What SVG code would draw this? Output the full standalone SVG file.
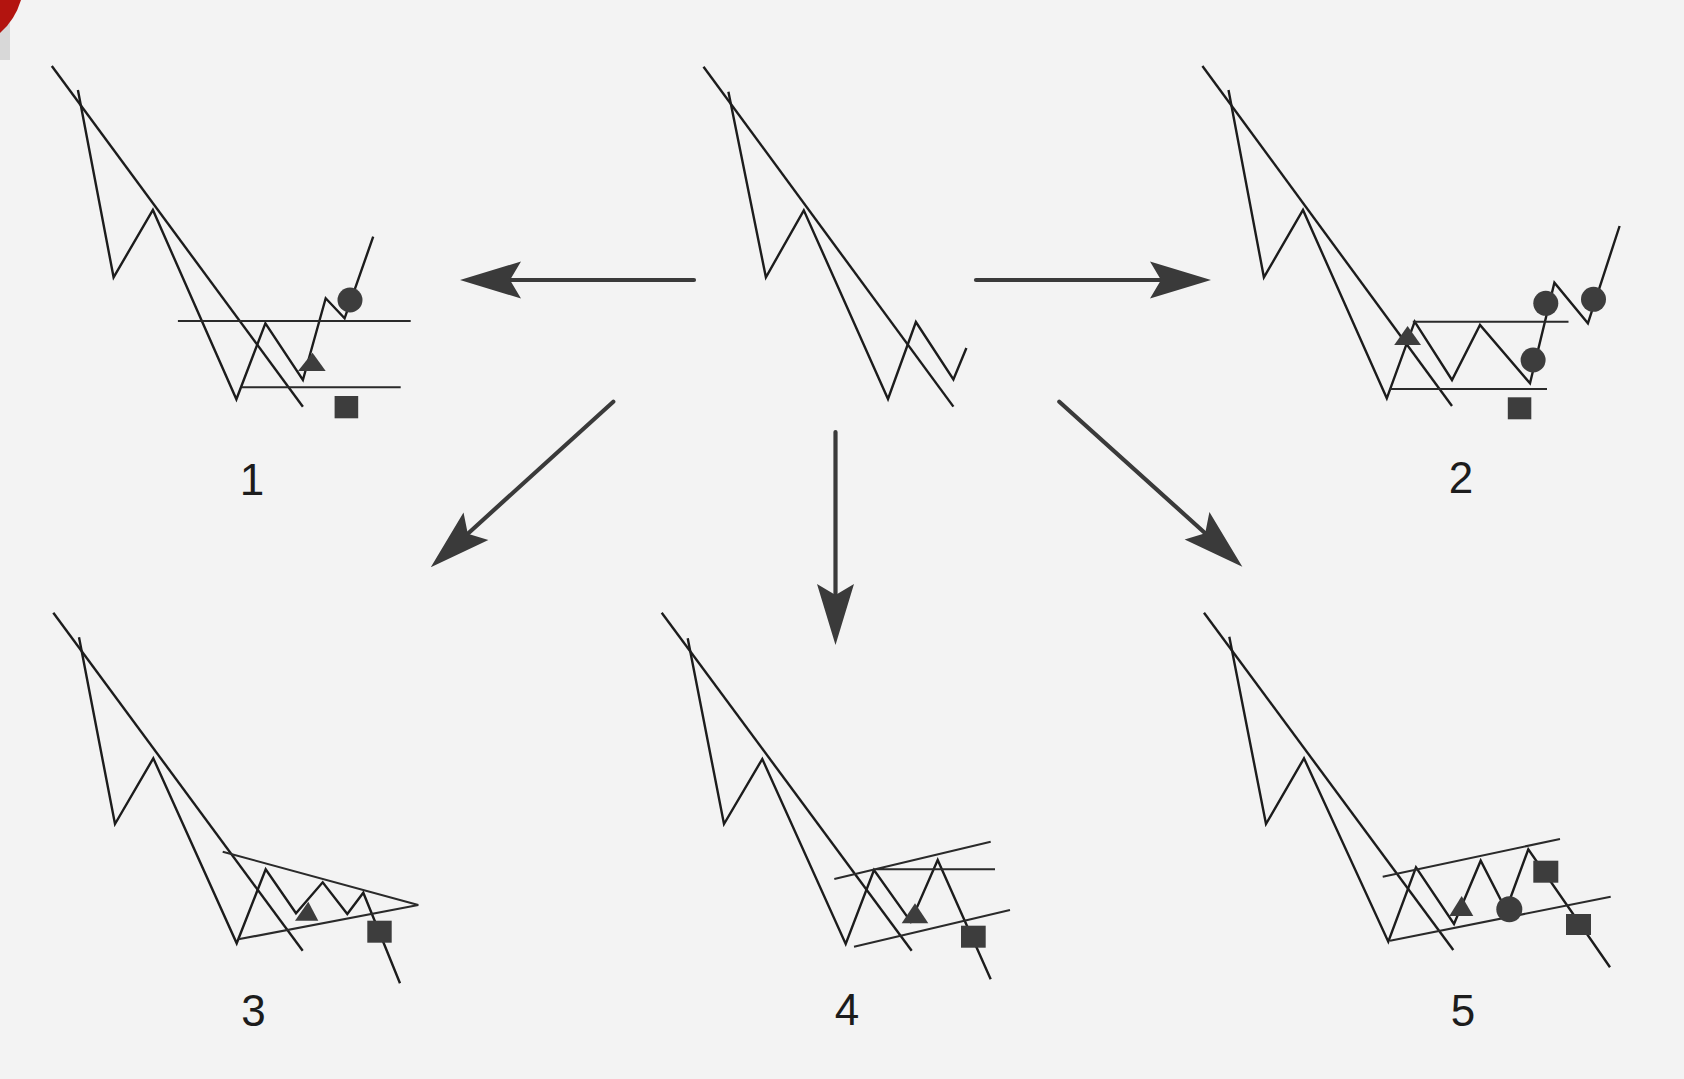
<svg xmlns="http://www.w3.org/2000/svg" width="1684" height="1079" viewBox="0 0 1684 1079">
  <style>
    .bg { fill: #f3f3f3; }
    .chart { fill: none; stroke: #1c1c1c; stroke-width: 2.4; stroke-linejoin: miter; stroke-linecap: butt; }
    .guide { fill: none; stroke: #2a2a2a; stroke-width: 2.1; }
    .mark { fill: #3d3d3d; }
    .arrow { fill: none; stroke: #3a3a3a; stroke-width: 4.2; stroke-linecap: round; }
    .label { font-family: "Liberation Sans", Arial, sans-serif; font-size: 44px; fill: #1c1c1c; text-anchor: middle; }
  </style>
  <defs>
    <marker id="head" markerUnits="userSpaceOnUse" viewBox="-12 -20 64 40" markerWidth="64" markerHeight="40" refX="0" refY="0" orient="auto" overflow="visible">
      <path d="M-11,-18.5 L50,0 L-11,18.5 L0,0 Z" fill="#3a3a3a"/>
    </marker>
  </defs>

  <rect class="bg" x="0" y="0" width="1684" height="1079"/>
  <rect x="0" y="0" width="10" height="60" fill="#d8d8d8"/>
  <path d="M0,0 H21 Q15,20 0,33 Z" fill="#b3140f"/>

  <g id="connectors">
    <line class="arrow" x1="694" y1="280" x2="510" y2="280" marker-end="url(#head)"/>
    <line class="arrow" x1="976" y1="280" x2="1161" y2="280" marker-end="url(#head)"/>
    <line class="arrow" x1="835.5" y1="432" x2="835.5" y2="595" marker-end="url(#head)"/>
    <line class="arrow" x1="613.3" y1="401.7" x2="467.8" y2="533.7" marker-end="url(#head)"/>
    <line class="arrow" x1="1059.3" y1="401.7" x2="1205.2" y2="533.2" marker-end="url(#head)"/>
  </g>

  <g id="panel-start">
    <path class="chart" d="M703.5,66.8 L953.4,406.6"/>
    <path class="chart" d="M728.4,91.7 L765.9,277.3 L803.8,210.3 L888,399 L915.9,322 L953.4,379.5 L966.4,348"/>
  </g>

  <g id="panel-1">
    <path class="chart" d="M51.8,66 L302.9,406.7"/>
    <path class="chart" d="M77.9,90 L113.6,277.3 L152.9,210 L236.4,399.3 L265.4,323.3 L302.9,380 L325.7,298.3 L344.6,318.3 L373.2,236.7"/>
    <path class="guide" d="M177.9,321 H410.7 M242,387.3 H400.7"/>
    <path class="mark" d="M312.5,352.7 L325.7,371 L298,371 Z"/>
    <rect class="mark" x="334.6" y="396" width="23.6" height="22.3"/>
    <circle class="mark" cx="350" cy="300" r="12.5"/>
    <text class="label" x="252" y="495">1</text>
  </g>

  <g id="panel-2">
    <path class="chart" d="M1202.4,66 L1452,406"/>
    <path class="chart" d="M1228.5,90 L1263.9,277.3 L1303,210 L1386.8,398.3 L1414.7,321.7 L1452,380 L1480,325 L1530,383.3 L1554.4,282.7 L1587.9,323.3 L1619.6,226"/>
    <path class="guide" d="M1412.8,321.7 H1568.5 M1389.8,389 H1547"/>
    <path class="mark" d="M1407.6,326 L1421,345 L1394.2,345 Z"/>
    <rect class="mark" x="1507.8" y="397.3" width="23.5" height="22"/>
    <circle class="mark" cx="1545.8" cy="303.3" r="12.5"/>
    <circle class="mark" cx="1533.1" cy="360" r="12.5"/>
    <circle class="mark" cx="1593.5" cy="299.3" r="12.5"/>
    <text class="label" x="1461" y="493">2</text>
  </g>

  <g id="panel-3">
    <path class="chart" d="M53.3,612.7 L302.7,950.7"/>
    <path class="chart" d="M79,637.3 L115,824 L153.3,758.3 L236.7,943.3 L265.7,869.3 L296,913.3 L322.7,882.3 L347.3,914 L363.3,892.7 L400,983.3"/>
    <path class="guide" d="M222.7,851.7 L418.3,905 L238.3,939.3"/>
    <path class="mark" d="M308.3,901.7 L318.3,920.7 L295,920.7 Z"/>
    <rect class="mark" x="367.3" y="920.7" width="24.4" height="22"/>
    <text class="label" x="253.5" y="1026">3</text>
  </g>

  <g id="panel-4">
    <path class="chart" d="M661.7,612.7 L911.7,950.7"/>
    <path class="chart" d="M687.7,638.3 L724,824 L762.3,759 L845.7,944 L874,870 L910.7,921.7 L937.7,860 L990.7,979.3"/>
    <path class="guide" d="M834.3,879 L990.7,841.7 M874,869.3 H995 M854,946.7 L1010,910"/>
    <path class="mark" d="M915,903.3 L928.3,923.3 L901.7,923.3 Z"/>
    <rect class="mark" x="961" y="925.7" width="24.7" height="22"/>
    <text class="label" x="847" y="1025">4</text>
  </g>

  <g id="panel-5">
    <path class="chart" d="M1204,612.7 L1453.3,950"/>
    <path class="chart" d="M1229.3,636.7 L1266,824 L1304,758.3 L1388.3,941.7 L1416,867.3 L1454,924 L1480.7,860.7 L1506,910 L1528.3,849.3 L1610,967.3"/>
    <path class="guide" d="M1382.7,876.7 L1560,839 M1390,940.7 L1610.7,896.7"/>
    <path class="mark" d="M1461.7,896 L1473.3,916 L1449.3,916 Z"/>
    <circle class="mark" cx="1509.3" cy="909.3" r="13"/>
    <rect class="mark" x="1533.3" y="860.7" width="25" height="22"/>
    <rect class="mark" x="1566" y="914" width="25" height="21"/>
    <text class="label" x="1463" y="1026">5</text>
  </g>
</svg>
